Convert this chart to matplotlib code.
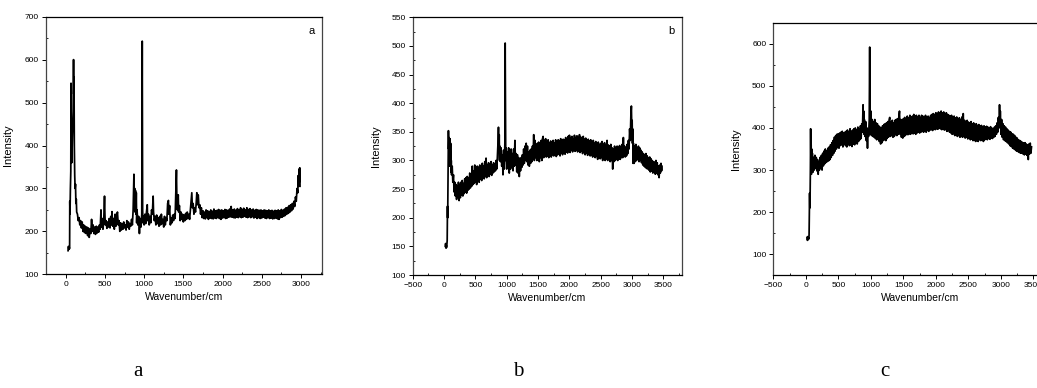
import matplotlib
matplotlib.use("Agg")
import matplotlib.pyplot as plt
from matplotlib.ticker import MultipleLocator, AutoMinorLocator

plt.rcParams['font.family'] = ['Liberation Sans', 'DejaVu Sans']

# Raman spectrum a: (wavenumber, intensity)
spec_a = [
    (30, 155), (35, 165), (40, 158), (45, 162), (50, 160), (52, 270), (55, 240), (60, 300), (65, 340),
    (68, 545), (72, 380), (78, 360), (85, 420), (95, 480), (100, 600), (103, 520), (106, 560), (110, 400),
    (115, 330), (120, 300), (125, 310), (130, 265), (135, 275), (140, 245), (150, 240), (160, 225),
    (170, 232), (180, 215), (190, 225), (200, 208), (210, 222), (220, 200), (230, 215), (240, 197),
    (250, 212), (260, 195), (270, 210), (280, 190), (290, 208), (300, 186), (310, 205), (320, 195),
    (330, 228), (340, 200), (350, 215), (360, 195), (370, 210), (380, 193), (390, 212), (400, 196),
    (410, 210), (420, 198), (430, 215), (440, 205), (450, 250), (455, 210), (465, 230), (475, 205),
    (485, 225), (495, 282), (500, 240), (505, 215), (515, 225), (525, 207), (535, 222), (545, 210),
    (555, 230), (565, 208), (575, 235), (585, 215), (590, 246), (600, 212), (610, 230), (620, 205),
    (630, 240), (640, 212), (650, 235), (660, 245), (670, 215), (680, 225), (690, 200), (700, 220),
    (710, 203), (720, 218), (730, 205), (740, 222), (750, 208), (760, 215), (770, 203), (780, 225),
    (790, 210), (800, 222), (810, 205), (820, 218), (830, 212), (840, 228), (850, 215), (860, 250),
    (870, 333), (875, 260), (880, 300), (885, 245), (890, 295), (895, 240), (900, 290), (905, 220),
    (910, 250), (920, 215), (930, 235), (940, 195), (950, 230), (960, 210), (970, 240), (976, 643),
    (981, 250), (985, 220), (990, 235), (1000, 215), (1010, 240), (1020, 218), (1030, 245), (1040, 262),
    (1045, 225), (1055, 240), (1065, 215), (1075, 235), (1085, 220), (1095, 250), (1105, 240), (1115, 282),
    (1120, 245), (1130, 225), (1140, 235), (1150, 215), (1160, 238), (1170, 218), (1180, 232), (1190, 212),
    (1200, 235), (1210, 215), (1220, 240), (1230, 218), (1240, 228), (1250, 210), (1260, 235), (1270, 215),
    (1280, 232), (1290, 225), (1300, 265), (1310, 272), (1315, 240), (1325, 260), (1335, 215), (1345, 232),
    (1355, 220), (1365, 238), (1375, 225), (1385, 240), (1395, 230), (1405, 300), (1412, 343), (1418, 270),
    (1425, 250), (1435, 285), (1440, 245), (1450, 260), (1460, 225), (1470, 245), (1480, 228), (1490, 240),
    (1500, 222), (1510, 238), (1520, 225), (1530, 242), (1540, 228), (1550, 245), (1560, 230), (1570, 240),
    (1580, 228), (1590, 250), (1600, 270), (1608, 290), (1615, 255), (1625, 265), (1635, 240), (1645, 255),
    (1655, 245), (1665, 268), (1672, 290), (1680, 262), (1690, 285), (1700, 255), (1710, 262), (1720, 240),
    (1730, 255), (1740, 232), (1750, 248), (1760, 230), (1770, 245), (1780, 229), (1790, 250), (1800, 232),
    (1810, 248), (1820, 228), (1830, 246), (1840, 231), (1850, 250), (1860, 230), (1870, 247), (1880, 229),
    (1890, 252), (1900, 231), (1910, 248), (1920, 230), (1930, 249), (1940, 232), (1950, 251), (1960, 230),
    (1970, 249), (1980, 228), (1990, 250), (2000, 231), (2010, 248), (2020, 232), (2030, 251), (2040, 230),
    (2050, 250), (2060, 231), (2070, 249), (2080, 233), (2090, 252), (2100, 234), (2110, 258), (2120, 233),
    (2130, 250), (2140, 232), (2150, 252), (2160, 231), (2170, 249), (2180, 233), (2190, 253), (2200, 232),
    (2210, 250), (2220, 234), (2230, 255), (2240, 232), (2250, 251), (2260, 233), (2270, 254), (2280, 235),
    (2290, 250), (2300, 233), (2310, 255), (2320, 232), (2330, 251), (2340, 234), (2350, 253), (2360, 232),
    (2370, 250), (2380, 234), (2390, 252), (2400, 231), (2410, 249), (2420, 233), (2430, 251), (2440, 230),
    (2450, 250), (2460, 232), (2470, 249), (2480, 230), (2490, 250), (2500, 231), (2510, 248), (2520, 233),
    (2530, 250), (2540, 231), (2550, 249), (2560, 230), (2570, 248), (2580, 232), (2590, 250), (2600, 230),
    (2610, 248), (2620, 231), (2630, 249), (2640, 229), (2650, 247), (2660, 230), (2670, 249), (2680, 231),
    (2690, 248), (2700, 229), (2710, 250), (2720, 228), (2730, 248), (2740, 232), (2750, 251), (2760, 233),
    (2770, 249), (2780, 235), (2790, 252), (2800, 237), (2810, 255), (2820, 240), (2830, 256), (2840, 242),
    (2850, 260), (2860, 245), (2870, 262), (2880, 248), (2890, 265), (2900, 252), (2910, 270), (2920, 258),
    (2930, 280), (2940, 270), (2950, 300), (2960, 290), (2965, 330), (2970, 305), (2975, 345), (2980, 315),
    (2985, 348), (2988, 305),
]

# Raman spectrum b
spec_b = [
    (20, 150), (25, 155), (30, 147), (35, 152), (40, 148), (45, 153), (50, 160), (55, 220), (58, 200),
    (62, 250), (66, 300), (70, 352), (74, 320), (78, 340), (82, 290), (86, 335), (90, 300), (95, 338),
    (100, 295), (105, 330), (110, 280), (115, 300), (120, 275), (130, 290), (140, 262), (150, 275),
    (160, 245), (170, 262), (180, 238), (190, 258), (200, 232), (210, 255), (220, 236), (230, 262),
    (240, 230), (250, 258), (260, 235), (270, 262), (280, 240), (290, 265), (300, 238), (310, 260),
    (320, 242), (330, 268), (340, 245), (350, 270), (360, 243), (370, 272), (380, 248), (390, 270),
    (400, 250), (410, 278), (420, 252), (430, 275), (440, 255), (450, 290), (460, 258), (470, 282),
    (480, 260), (490, 292), (500, 262), (510, 285), (520, 258), (530, 290), (540, 265), (550, 288),
    (560, 262), (570, 292), (580, 268), (590, 286), (600, 265), (610, 295), (620, 270), (630, 290),
    (640, 268), (650, 298), (660, 272), (670, 304), (680, 270), (690, 292), (700, 275), (710, 296),
    (720, 272), (730, 294), (740, 276), (750, 298), (760, 274), (770, 292), (780, 278), (790, 296),
    (800, 280), (810, 294), (820, 282), (830, 300), (840, 285), (850, 305), (860, 330), (868, 358),
    (875, 320), (880, 345), (885, 300), (890, 325), (900, 298), (910, 322), (920, 290), (930, 310),
    (940, 275), (950, 318), (960, 285), (970, 330), (975, 505), (980, 400), (984, 300), (990, 322),
    (1000, 285), (1010, 315), (1020, 290), (1030, 322), (1040, 278), (1050, 318), (1060, 285), (1070, 320),
    (1080, 288), (1090, 312), (1100, 282), (1110, 320), (1120, 290), (1130, 335), (1140, 292), (1150, 312),
    (1160, 280), (1170, 310), (1180, 278), (1190, 305), (1200, 272), (1210, 300), (1220, 282), (1230, 305),
    (1240, 288), (1250, 310), (1260, 292), (1270, 320), (1280, 295), (1290, 325), (1300, 300), (1310, 330),
    (1320, 298), (1330, 325), (1340, 292), (1350, 315), (1360, 290), (1370, 318), (1380, 295), (1390, 320),
    (1400, 298), (1410, 325), (1420, 305), (1430, 345), (1440, 300), (1450, 335), (1460, 305), (1470, 328),
    (1480, 300), (1490, 330), (1500, 302), (1510, 332), (1520, 298), (1530, 328), (1540, 305), (1550, 335),
    (1560, 300), (1570, 338), (1580, 342), (1590, 305), (1600, 335), (1610, 308), (1620, 338), (1630, 306),
    (1640, 332), (1650, 308), (1660, 336), (1670, 305), (1680, 330), (1690, 310), (1700, 334), (1710, 306),
    (1720, 332), (1730, 310), (1740, 335), (1750, 308), (1760, 330), (1770, 312), (1780, 336), (1790, 307),
    (1800, 333), (1810, 310), (1820, 336), (1830, 312), (1840, 334), (1850, 308), (1860, 338), (1870, 313),
    (1880, 335), (1890, 310), (1900, 337), (1910, 314), (1920, 336), (1930, 311), (1940, 340), (1950, 315),
    (1960, 338), (1970, 313), (1980, 342), (1990, 316), (2000, 344), (2010, 314), (2020, 340), (2030, 318),
    (2040, 342), (2050, 315), (2060, 338), (2070, 318), (2080, 344), (2090, 316), (2100, 340), (2110, 318),
    (2120, 343), (2130, 315), (2140, 340), (2150, 317), (2160, 345), (2170, 314), (2180, 341), (2190, 316),
    (2200, 338), (2210, 312), (2220, 342), (2230, 315), (2240, 337), (2250, 310), (2260, 339), (2270, 313),
    (2280, 335), (2290, 309), (2300, 337), (2310, 312), (2320, 334), (2330, 308), (2340, 336), (2350, 310),
    (2360, 332), (2370, 306), (2380, 335), (2390, 308), (2400, 330), (2410, 305), (2420, 333), (2430, 307),
    (2440, 330), (2450, 302), (2460, 332), (2470, 306), (2480, 328), (2490, 303), (2500, 330), (2510, 305),
    (2520, 333), (2530, 300), (2540, 328), (2550, 304), (2560, 331), (2570, 300), (2580, 326), (2590, 303),
    (2600, 335), (2610, 300), (2620, 327), (2630, 302), (2640, 325), (2650, 298), (2660, 328), (2670, 300),
    (2680, 322), (2690, 285), (2700, 320), (2710, 298), (2720, 325), (2730, 300), (2740, 322), (2750, 302),
    (2760, 325), (2770, 300), (2780, 323), (2790, 303), (2800, 326), (2810, 302), (2820, 324), (2830, 305),
    (2840, 328), (2850, 305), (2860, 340), (2870, 308), (2880, 325), (2890, 306), (2900, 322), (2910, 308),
    (2920, 328), (2930, 312), (2940, 335), (2950, 320), (2960, 355), (2970, 335), (2980, 380), (2988, 395),
    (2995, 350), (3000, 370), (3005, 330), (3010, 355), (3015, 295), (3020, 330), (3030, 295), (3040, 325),
    (3050, 298), (3060, 328), (3070, 300), (3080, 322), (3090, 302), (3100, 325), (3110, 298), (3120, 322),
    (3130, 300), (3140, 318), (3150, 296), (3160, 315), (3170, 292), (3180, 312), (3190, 290), (3200, 310),
    (3210, 288), (3220, 312), (3230, 286), (3240, 308), (3250, 285), (3260, 305), (3270, 283), (3280, 306),
    (3290, 280), (3300, 303), (3310, 282), (3320, 300), (3330, 278), (3340, 298), (3350, 280), (3360, 297),
    (3370, 276), (3380, 300), (3390, 278), (3400, 296), (3410, 275), (3420, 290), (3430, 270), (3440, 292),
    (3450, 278), (3460, 295), (3470, 282), (3475, 290),
]

# Raman spectrum c
spec_c = [
    (20, 140), (25, 133), (30, 142), (35, 135), (40, 140), (45, 136), (50, 145), (55, 200), (58, 245),
    (62, 210), (66, 240), (70, 300), (74, 398), (78, 330), (82, 360), (86, 290), (90, 350), (95, 300),
    (100, 340), (110, 295), (120, 330), (130, 300), (140, 335), (150, 305), (160, 330), (170, 298),
    (180, 325), (190, 290), (200, 320), (210, 300), (220, 330), (230, 305), (240, 335), (250, 300),
    (260, 340), (270, 310), (280, 345), (290, 315), (300, 350), (310, 318), (320, 345), (330, 320),
    (340, 352), (350, 322), (360, 355), (370, 325), (380, 360), (390, 330), (400, 365), (410, 335),
    (420, 370), (430, 340), (440, 378), (450, 345), (460, 382), (470, 350), (480, 385), (490, 355),
    (500, 386), (510, 352), (520, 388), (530, 358), (540, 390), (550, 360), (560, 392), (570, 355),
    (580, 388), (590, 362), (600, 390), (610, 358), (620, 392), (630, 355), (640, 395), (650, 362),
    (660, 390), (670, 358), (680, 398), (690, 360), (700, 392), (710, 356), (720, 395), (730, 362),
    (740, 398), (750, 360), (760, 400), (770, 365), (780, 396), (790, 362), (800, 402), (810, 368),
    (820, 398), (830, 372), (840, 405), (850, 375), (860, 410), (870, 390), (880, 455), (885, 400),
    (890, 440), (895, 385), (900, 420), (910, 380), (920, 415), (930, 370), (940, 400), (948, 352),
    (955, 395), (965, 380), (975, 420), (982, 592), (987, 430), (992, 385), (1000, 440), (1010, 382),
    (1020, 420), (1030, 380), (1040, 415), (1050, 378), (1060, 420), (1070, 375), (1080, 412), (1090, 372),
    (1100, 410), (1110, 375), (1120, 405), (1130, 368), (1140, 402), (1150, 362), (1160, 400), (1170, 365),
    (1180, 405), (1190, 370), (1200, 408), (1210, 372), (1220, 410), (1230, 370), (1240, 412), (1250, 375),
    (1260, 415), (1270, 378), (1280, 418), (1290, 425), (1300, 380), (1310, 415), (1320, 382), (1330, 418),
    (1340, 378), (1350, 412), (1360, 380), (1370, 418), (1380, 384), (1390, 420), (1400, 382), (1410, 422),
    (1420, 385), (1430, 425), (1440, 440), (1450, 385), (1460, 420), (1470, 378), (1480, 418), (1490, 376),
    (1500, 422), (1510, 380), (1520, 425), (1530, 382), (1540, 420), (1550, 385), (1560, 428), (1570, 384),
    (1580, 424), (1590, 386), (1600, 430), (1610, 385), (1620, 426), (1630, 388), (1640, 428), (1650, 386),
    (1660, 432), (1670, 388), (1680, 428), (1690, 385), (1700, 430), (1710, 388), (1720, 426), (1730, 390),
    (1740, 430), (1750, 388), (1760, 425), (1770, 390), (1780, 430), (1790, 392), (1800, 428), (1810, 390),
    (1820, 425), (1830, 392), (1840, 430), (1850, 390), (1860, 426), (1870, 394), (1880, 428), (1890, 392),
    (1900, 425), (1910, 395), (1920, 430), (1930, 396), (1940, 432), (1950, 394), (1960, 434), (1970, 398),
    (1980, 432), (1990, 396), (2000, 436), (2010, 398), (2020, 434), (2030, 397), (2040, 438), (2050, 400),
    (2060, 435), (2070, 398), (2080, 440), (2090, 396), (2100, 436), (2110, 398), (2120, 438), (2130, 395),
    (2140, 434), (2150, 396), (2160, 436), (2170, 392), (2180, 432), (2190, 394), (2200, 430), (2210, 390),
    (2220, 428), (2230, 388), (2240, 430), (2250, 385), (2260, 426), (2270, 386), (2280, 428), (2290, 382),
    (2300, 424), (2310, 384), (2320, 426), (2330, 380), (2340, 422), (2350, 382), (2360, 424), (2370, 378),
    (2380, 420), (2390, 380), (2400, 426), (2410, 378), (2420, 434), (2430, 380), (2440, 418), (2450, 376),
    (2460, 415), (2470, 378), (2480, 418), (2490, 374), (2500, 414), (2510, 376), (2520, 412), (2530, 372),
    (2540, 415), (2550, 374), (2560, 410), (2570, 370), (2580, 412), (2590, 372), (2600, 408), (2610, 368),
    (2620, 410), (2630, 370), (2640, 406), (2650, 368), (2660, 408), (2670, 372), (2680, 404), (2690, 370),
    (2700, 406), (2710, 372), (2720, 403), (2730, 368), (2740, 405), (2750, 372), (2760, 402), (2770, 374),
    (2780, 404), (2790, 372), (2800, 402), (2810, 375), (2820, 400), (2830, 373), (2840, 403), (2850, 376),
    (2860, 400), (2870, 375), (2880, 398), (2890, 378), (2900, 402), (2910, 380), (2920, 405), (2930, 385),
    (2940, 412), (2950, 390), (2960, 425), (2970, 400), (2978, 455), (2985, 410), (2990, 440), (3000, 385),
    (3010, 420), (3020, 378), (3030, 410), (3040, 372), (3050, 405), (3060, 370), (3070, 402), (3080, 368),
    (3090, 398), (3100, 365), (3110, 395), (3120, 362), (3130, 392), (3140, 358), (3150, 390), (3160, 356),
    (3170, 386), (3180, 352), (3190, 385), (3200, 350), (3210, 382), (3220, 348), (3230, 378), (3240, 345),
    (3250, 376), (3260, 344), (3270, 372), (3280, 342), (3290, 370), (3300, 340), (3310, 368), (3320, 340),
    (3330, 366), (3340, 338), (3350, 364), (3360, 336), (3370, 365), (3380, 338), (3390, 362), (3400, 335),
    (3410, 360), (3420, 325), (3430, 362), (3440, 338), (3450, 364), (3460, 340), (3470, 355),
]

panel_tags = ["a", "b", "c"]
inner_tags = ["a", "b", ""]

W, H = 1037, 388


def px_axes(left, top, right, bottom):
    # pixel box -> figure fraction
    return [left / W, 1 - bottom / H, (right - left) / W, (bottom - top) / H]


fig = plt.figure(figsize=(W / 100, H / 100), dpi=100)

setups = [
    (spec_a, px_axes(45.7, 16.7, 322.3, 274.3), (-255, 3272), (100, 700), 500, 100, 13),
    (spec_b, px_axes(412.7, 17.3, 682.3, 275.0), (-500, 3800), (100, 550), 500, 50, 381),
    (spec_c, px_axes(773.3, 22.7, 1066.0, 275.3), (-500, 4000), (50, 650), 500, 100, 741),
]

for i, (spec, box, xl, yl, xstep, ystep, ylab_x) in enumerate(setups):
    ax = fig.add_axes(box)
    wn = [p[0] for p in spec]
    inten = [p[1] for p in spec]
    ax.plot(wn, inten, color="black", lw=1.25)
    ax.set_xlim(*xl)
    ax.set_ylim(*yl)
    ax.xaxis.set_major_locator(MultipleLocator(xstep))
    ax.yaxis.set_major_locator(MultipleLocator(ystep))
    ax.xaxis.set_minor_locator(AutoMinorLocator(2))
    ax.yaxis.set_minor_locator(AutoMinorLocator(2))
    ax.tick_params(which="major", direction="out", length=3, width=0.7, labelsize=6, pad=2)
    ax.tick_params(which="minor", direction="in", length=1.5, width=0.6)
    ax.tick_params(top=False, right=False, which="both")
    for side in ["top", "bottom"]:
        ax.spines[side].set_linewidth(0.9)
        ax.spines[side].set_color("black")
    for side in ["left", "right"]:
        ax.spines[side].set_linewidth(0.9)
        ax.spines[side].set_color("#444444")
    ax.set_xlabel("Wavenumber/cm", fontsize=7.5, labelpad=3)
    ax.set_ylabel("Intensity", fontsize=8)
    ax.yaxis.set_label_coords((ylab_x - box[0] * W) / (box[2] * W), 0.5)
    if inner_tags[i]:
        ax.text(0.96, 0.945, inner_tags[i], transform=ax.transAxes, fontsize=8,
                ha="center", va="center")

for tag, x in zip(panel_tags, [138, 518, 885]):
    fig.text(x / W, 1 - 372 / H, tag, fontsize=15, family="Liberation Serif",
             ha="center", va="center")

fig.savefig("out.png", dpi=100)
